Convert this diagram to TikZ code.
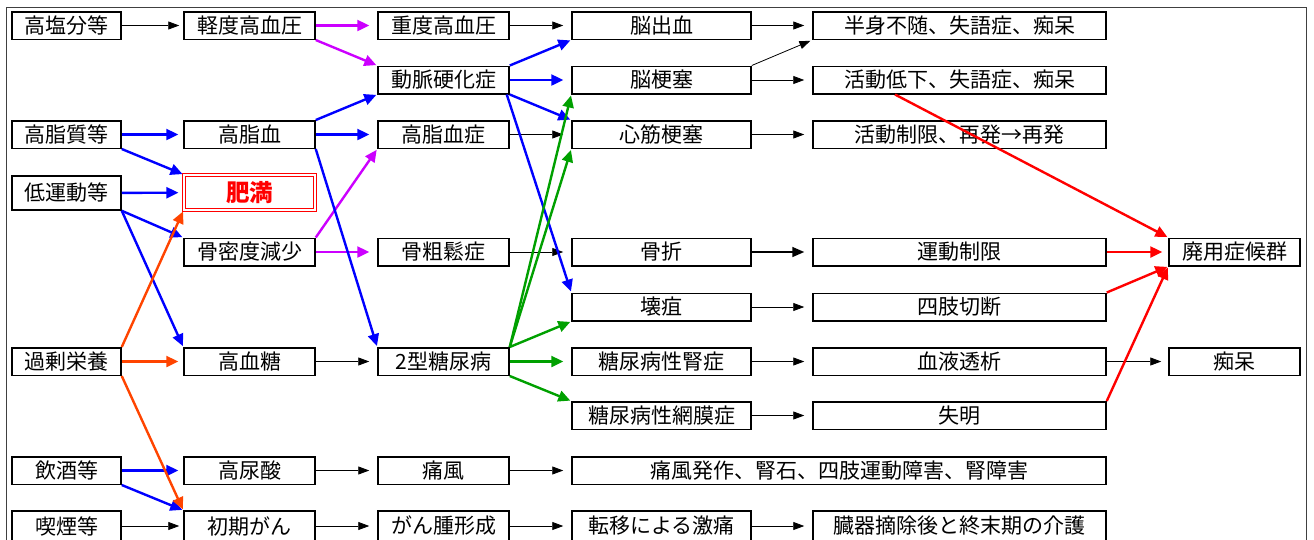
\documentclass[tikz,border=0pt]{standalone}
\usepackage{fontspec}
\setmainfont{Noto Sans CJK JP}
\usetikzlibrary{arrows.meta}
\definecolor{mg}{RGB}{204,0,255}
\definecolor{bl}{RGB}{0,0,255}
\definecolor{og}{RGB}{255,68,0}
\definecolor{gr}{RGB}{0,160,0}
\definecolor{rd}{RGB}{255,0,0}
\begin{document}
\begin{tikzpicture}[x=1pt,y=-1pt,
  bx/.style={draw=black,line width=1.5pt,minimum height=27.5pt,inner sep=0pt,font=\fontsize{21}{21}\selectfont},
  w1/.style={minimum width=109pt},
  w2/.style={minimum width=131pt},
  w4/.style={minimum width=179pt},
  w5/.style={minimum width=293pt},
  hb/.style={minimum height=30pt},
  fat/.style={draw=rd,double=white,double distance=1.6pt,line width=1.1pt,minimum width=131pt,minimum height=35pt,inner sep=0pt,text=rd,font=\fontsize{23.5}{24}\selectfont\bfseries},
  ar/.style={-{Triangle[length=11pt,width=8pt]},line width=0.8pt,draw=black,shorten >=8pt},
  ca/.style={-{Triangle[length=12pt,width=11pt]},line width=2.4pt,shorten >=1pt},
  hz/.style={shorten >=8pt},
  hz1/.style={shorten >=5pt}
]
\useasboundingbox (0,0) rectangle (1314,539);
\draw[black!75,line width=0.9pt] (6,7) rectangle (1306,600);

% column 1
\node[bx,w1] (a1) at (66.5,25.5) {高塩分等};
\node[bx,w1] (a3) at (66.5,134.5) {高脂質等};
\node[bx,w1,minimum height=34pt] (a4) at (66.5,193) {低運動等};
\node[bx,w1] (a7) at (66.5,361.5) {過剰栄養};
\node[bx,w1] (a9) at (66.5,470.5) {飲酒等};
\node[bx,w1,hb] (a10) at (66.5,526) {喫煙等};
% column 2
\node[bx,w2] (b1) at (249.5,25.5) {軽度高血圧};
\node[bx,w2] (b3) at (249.5,134.5) {高脂血};
\node[fat] (b4) at (249.5,192.5) {肥満};
\node[bx,w2] (b5) at (249.5,252) {骨密度減少};
\node[bx,w2] (b7) at (249.5,361.5) {高血糖};
\node[bx,w2] (b9) at (249.5,470.5) {高尿酸};
\node[bx,w2,hb] (b10) at (249.5,526) {初期がん};
% column 3
\node[bx,w2] (c1) at (443.5,25.5) {重度高血圧};
\node[bx,w2] (c2) at (443.5,80) {動脈硬化症};
\node[bx,w2] (c3) at (443.5,134.5) {高脂血症};
\node[bx,w2] (c5) at (443.5,252) {骨粗鬆症};
\node[bx,w2] (c7) at (443.5,361.5) {2型糖尿病};
\node[bx,w2] (c9) at (443.5,470.5) {痛風};
\node[bx,w2,hb] (c10) at (443.5,526) {がん腫形成};
% column 4
\node[bx,w4] (d1) at (661.5,25.5) {脳出血};
\node[bx,w4] (d2) at (661.5,80) {脳梗塞};
\node[bx,w4] (d3) at (661.5,134.5) {心筋梗塞};
\node[bx,w4] (d5) at (661.5,252) {骨折};
\node[bx,w4] (d6) at (661.5,307) {壊疽};
\node[bx,w4] (d7) at (661.5,361.5) {糖尿病性腎症};
\node[bx,w4] (d8) at (661.5,415.5) {糖尿病性網膜症};
\node[bx,minimum width=534pt] (d9) at (839,470.5) {痛風発作、腎石、四肢運動障害、腎障害};
\node[bx,w4,hb] (d10) at (661.5,526) {転移による激痛};
% column 5
\node[bx,w5] (e1) at (959.5,25.5) {半身不随、失語症、痴呆};
\node[bx,w5] (e2) at (959.5,80) {活動低下、失語症、痴呆};
\node[bx,w5] (e3) at (959.5,134.5) {活動制限、再発→再発};
\node[bx,w5] (e5) at (959.5,252) {運動制限};
\node[bx,w5] (e6) at (959.5,307) {四肢切断};
\node[bx,w5] (e7) at (959.5,361.5) {血液透析};
\node[bx,w5] (e8) at (959.5,415.5) {失明};
\node[bx,w5,hb] (e10) at (959.5,526) {臓器摘除後と終末期の介護};
% column 6
\node[bx,w2] (f5) at (1234.5,252) {廃用症候群};
\node[bx,w2] (f7) at (1234.5,361.5) {痴呆};

% black connectors
\draw[ar,shorten >=4pt] (a1) -- (b1);
\draw[ar] (c1) -- (d1);
\draw[ar] (d1) -- (e1);
\draw[ar,shorten >=2pt] (d2.north east) -- (e1.south west);
\draw[ar] (d2) -- (e2);
\draw[ar] (c3) -- (d3);
\draw[ar] (d3) -- (e3);
\draw[ar] (c5) -- (d5);
\draw[ar,line width=1.6pt,-{Triangle[length=12pt,width=10pt]}] (d5) -- (e5);
\draw[ar] (d6) -- (e6);
\draw[ar] (b7) -- (c7);
\draw[ar] (d7) -- (e7);
\draw[ar] (d8) -- (e8);
\draw[ar,shorten >=7pt] (e7) -- (f7);
\draw[ar] (b9) -- (c9);
\draw[ar] (c9) -- (d9);
\draw[ar,shorten >=4pt] (a10) -- (b10);
\draw[ar] (b10) -- (c10);
\draw[ar] (c10) -- (d10);
\draw[ar] (d10) -- (e10);

% magenta
\draw[ca,mg,hz] (b1) -- (c1);
\draw[ca,mg] (b1.south east) -- (c2.north west);
\draw[ca,mg] (b5.north east) -- (c3.south west);
\draw[ca,mg,hz] (b5) -- (c5);

% blue
\draw[ca,bl,hz1] (a3) -- (b3);
\draw[ca,bl] (a3.south east) -- (b4.north west);
\draw[ca,bl,hz1] (a4) -- (b4);
\draw[ca,bl] (a4.south east) -- (b5.north west);
\draw[ca,bl] (a4.south east) -- (b7.north west);
\draw[ca,bl] (b3.north east) -- (c2.south west);
\draw[ca,bl,hz] (b3) -- (c3);
\draw[ca,bl] (b3.south east) -- (c7.north west);
\draw[ca,bl] (c2.north east) -- (d1.south west);
\draw[ca,bl,hz] (c2) -- (d2);
\draw[ca,bl] (c2.south east) -- (d3.north west);
\draw[ca,bl] ([xshift=-3pt]c2.south east) -- (d6.north west);
\draw[ca,bl,hz1] (a9) -- (b9);
\draw[ca,bl] (a9.south east) -- (b10.north west);

% orange
\draw[ca,og] (a7.north east) -- (b4.south west);
\draw[ca,og,hz1] (a7) -- (b7);
\draw[ca,og] (a7.south east) -- (b10.north west);

% green
\draw[ca,gr] (c7.north east) -- (d2.south west);
\draw[ca,gr] (c7.north east) -- (d3.south west);
\draw[ca,gr] (c7.north east) -- (d6.south west);
\draw[ca,gr,hz] (c7) -- (d7);
\draw[ca,gr] (c7.south east) -- (d8.north west);

% red
\draw[ca,rd] ([xshift=-64.5pt]e2.south) -- (f5.north west);
\draw[ca,rd,shorten >=6pt] (e5) -- (f5);
\draw[ca,rd] (e6.north east) -- (f5.south west);
\draw[ca,rd] (e8.north east) -- (f5.south west);
\end{tikzpicture}
\end{document}
